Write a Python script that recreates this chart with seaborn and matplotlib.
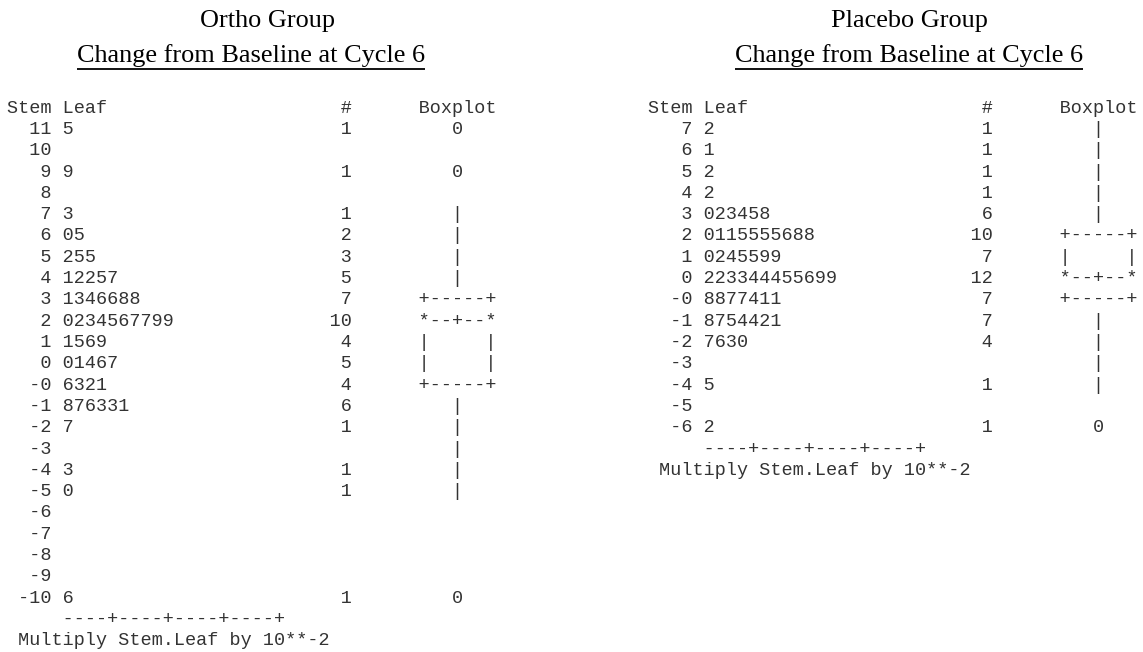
import numpy as np
import pandas as pd
import matplotlib
matplotlib.use("Agg")
import matplotlib.pyplot as plt
import seaborn as sns

# Change from baseline at cycle 6 (one value per subject)
ortho_values = [0.115, 0.099, 0.073, 0.060, 0.065, 0.052, 0.055, 0.055,
                0.041, 0.042, 0.042, 0.045, 0.047,
                0.031, 0.033, 0.034, 0.036, 0.036, 0.038, 0.038,
                0.020, 0.022, 0.023, 0.024, 0.025, 0.026, 0.027, 0.027, 0.029, 0.029,
                0.011, 0.015, 0.016, 0.019,
                0.000, 0.001, 0.004, 0.006, 0.007,
                -0.006, -0.003, -0.002, -0.001,
                -0.018, -0.017, -0.016, -0.013, -0.013, -0.011,
                -0.027, -0.043, -0.050, -0.106]

placebo_values = [0.072, 0.061, 0.052, 0.042,
                  0.030, 0.032, 0.033, 0.034, 0.035, 0.038,
                  0.020, 0.021, 0.021, 0.025, 0.025, 0.025, 0.025, 0.026, 0.028, 0.028,
                  0.010, 0.012, 0.014, 0.015, 0.015, 0.019, 0.019,
                  0.002, 0.002, 0.003, 0.003, 0.004, 0.004, 0.004, 0.005, 0.005,
                  0.006, 0.009, 0.009,
                  -0.008, -0.008, -0.007, -0.007, -0.004, -0.001, -0.001,
                  -0.018, -0.017, -0.015, -0.014, -0.014, -0.012, -0.011,
                  -0.027, -0.026, -0.023, -0.020,
                  -0.045, -0.062]

group_titles = ["Ortho Group", "Placebo Group"]
subtitle = "Change from Baseline at Cycle 6"
header_text = ("Stem Leaf", "#", "Boxplot")
axis_rule = "----+----+----+----+"
footnote = "Multiply Stem.Leaf by 10**-2"
leaf_unit = 0.001

# ---------------------------------------------------------------- layout
W, H, DPI = 1143, 652, 100
CHAR_W = 11.1                      # monospace advance in pixels
MONO_PT = CHAR_W / 0.6 * 72 / DPI
ROW_H = 21.3
HEADER_BASE = 113
FIRST_ROW_BASE = 134
PANEL_X = [7, 648]
TITLE_X = [(268, 251), (909, 909)]
TITLE_PT = 26.3 * 72 / DPI
INK = "#333333"


def row_key(u):
    """Stem row of a value given in leaf units (keeps '-0' apart from '0')."""
    if u >= 0:
        return (1, u // 10)
    return (-1, (-u) // 10)


def stem_rows(units):
    top = max(units) // 10 if max(units) >= 0 else None
    bottom = (-min(units)) // 10 if min(units) < 0 else None
    rows = []
    if top is not None:
        rows += [(1, s) for s in range(top, -1, -1)]
    if bottom is not None:
        rows += [(-1, s) for s in range(0, bottom + 1)]
    return rows


def sas_pct(sorted_units, p):
    n = len(sorted_units)
    npv = n * p
    j = int(np.floor(npv))
    if np.isclose(npv, j):
        return (sorted_units[j - 1] + sorted_units[j]) / 2
    return sorted_units[j]


def build_lines(values):
    units = [int(round(v / leaf_unit)) for v in values]
    rows = stem_rows(units)
    index = {k: i for i, k in enumerate(rows)}
    df = pd.DataFrame({"u": units})
    df["row"] = [index[row_key(u)] for u in units]

    # boxplot statistics
    su = sorted(units)
    q1, med, q3 = (sas_pct(su, p) for p in (0.25, 0.5, 0.75))
    mean = df["u"].mean()
    iqr = q3 - q1
    lo_in, hi_in = q1 - 1.5 * iqr, q3 + 1.5 * iqr
    lo_out, hi_out = q1 - 3 * iqr, q3 + 3 * iqr
    inside = df[(df.u >= lo_in) & (df.u <= hi_in)]
    hi_row = index[row_key(inside.u.max())]
    lo_row = index[row_key(inside.u.min())]
    q3_row = index[row_key(int(round(q3)))]
    q1_row = index[row_key(int(round(q1)))]
    med_row = index[row_key(int(round(med)))]
    mean_row = index[row_key(int(round(mean)))]

    box = {}
    for i in range(len(rows)):
        if i == med_row:
            box[i] = "*--+--*" if mean_row == i else "*-----*"
        elif i in (q1_row, q3_row):
            box[i] = "+-----+"
        elif q3_row < i < q1_row:
            box[i] = "|  +  |" if mean_row == i else "|     |"
        elif hi_row <= i < q3_row or q1_row < i <= lo_row:
            box[i] = "   |   "
        else:
            box[i] = ""
    for u in units:
        if u < lo_in or u > hi_in:
            mark = "*" if (u < lo_out or u > hi_out) else "0"
            box[index[row_key(u)]] = f"   {mark}   "

    lines = []
    for i, (sign, s) in enumerate(rows):
        sub = df[df.row == i].u
        if sign > 0:
            leaves = "".join(str(u % 10) for u in sorted(sub))
            label = str(s)
        else:
            leaves = "".join(str((-u) % 10) for u in sorted(sub))
            label = "-" + str(s)
        count = str(len(sub)) if len(sub) else ""
        lines.append(f"{label:>4} {leaves:<24}{count:>2}{'':6}{box[i]}".rstrip())
    return lines


sns.set_theme(style="white")
fig = plt.figure(figsize=(W / DPI, H / DPI), dpi=DPI)
ax = fig.add_axes([0, 0, 1, 1])
ax.set_xlim(0, W)
ax.set_ylim(H, 0)
ax.axis("off")

mono = dict(family="Liberation Mono", fontsize=MONO_PT, color=INK,
            ha="left", va="baseline")
serif = dict(family="Liberation Serif", fontsize=TITLE_PT, color="black",
             ha="center", va="baseline")

header = f"{header_text[0]:<30}{header_text[1]}{'':6}{header_text[2]}"
renderer = fig.canvas.get_renderer()

for g, values in enumerate([ortho_values, placebo_values]):
    x0 = PANEL_X[g]
    ax.text(TITLE_X[g][0], 27, group_titles[g], **serif)
    sub_t = ax.text(TITLE_X[g][1], 62, subtitle, **serif)
    bb = sub_t.get_window_extent(renderer).transformed(ax.transData.inverted())
    ax.plot([bb.x0, bb.x1], [68.5, 68.5], color="black", lw=1.3,
            solid_capstyle="butt")

    ax.text(x0, HEADER_BASE, header, **mono)
    lines = build_lines(values)
    for i, line in enumerate(lines):
        ax.text(x0, FIRST_ROW_BASE + i * ROW_H, line, **mono)
    n = len(lines)
    ax.text(x0, FIRST_ROW_BASE + n * ROW_H, " " * 5 + axis_rule, **mono)
    ax.text(x0, FIRST_ROW_BASE + (n + 1) * ROW_H, " " + footnote, **mono)

fig.savefig("out.png", dpi=DPI, facecolor="white")
